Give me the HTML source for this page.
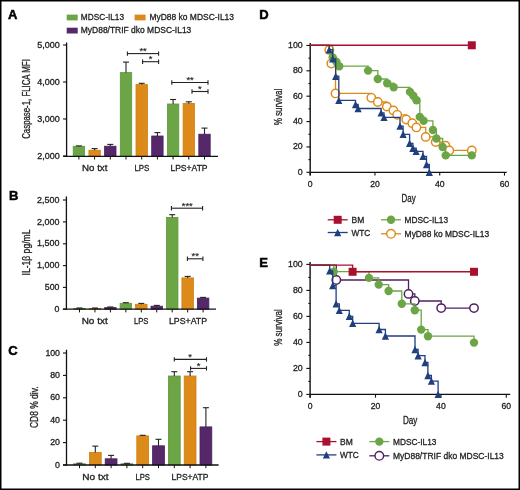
<!DOCTYPE html>
<html><head><meta charset="utf-8"><style>
html,body{margin:0;padding:0;background:#fff;}
svg{display:block;will-change:transform;}
text{font-family:"Liberation Sans",sans-serif;}
</style></head><body>
<svg width="520" height="490" viewBox="0 0 520 490">
<rect x="0" y="0" width="520" height="490" fill="#fff"/>
<rect x="0.75" y="0.75" width="518.5" height="488.5" fill="none" stroke="#000" stroke-width="1.5"/>
<rect x="73.2" y="146.3" width="11.4" height="10" fill="#6ca546" stroke="#5e9838" stroke-width="0.8"/>
<line x1="78.9" y1="146.3" x2="78.9" y2="145.9" stroke="#222222" stroke-width="1.1"/>
<line x1="75.9" y1="145.9" x2="81.9" y2="145.9" stroke="#222222" stroke-width="1.1"/>
<rect x="88.9" y="150.2" width="11.4" height="6.1" fill="#dc8a19" stroke="#cf7e10" stroke-width="0.8"/>
<line x1="94.6" y1="150.2" x2="94.6" y2="148.6" stroke="#222222" stroke-width="1.1"/>
<line x1="91.6" y1="148.6" x2="97.6" y2="148.6" stroke="#222222" stroke-width="1.1"/>
<rect x="104.6" y="146.2" width="11.4" height="10.1" fill="#55286a" stroke="#47205c" stroke-width="0.8"/>
<line x1="110.3" y1="146.2" x2="110.3" y2="144.4" stroke="#222222" stroke-width="1.1"/>
<line x1="107.3" y1="144.4" x2="113.3" y2="144.4" stroke="#222222" stroke-width="1.1"/>
<rect x="120.3" y="72.6" width="11.4" height="83.7" fill="#6ca546" stroke="#5e9838" stroke-width="0.8"/>
<line x1="126" y1="72.6" x2="126" y2="62.1" stroke="#222222" stroke-width="1.1"/>
<line x1="123" y1="62.1" x2="129" y2="62.1" stroke="#222222" stroke-width="1.1"/>
<rect x="136" y="84.6" width="11.4" height="71.7" fill="#dc8a19" stroke="#cf7e10" stroke-width="0.8"/>
<line x1="141.7" y1="84.6" x2="141.7" y2="83.3" stroke="#222222" stroke-width="1.1"/>
<line x1="138.7" y1="83.3" x2="144.7" y2="83.3" stroke="#222222" stroke-width="1.1"/>
<rect x="151.7" y="136" width="11.4" height="20.3" fill="#55286a" stroke="#47205c" stroke-width="0.8"/>
<line x1="157.4" y1="136" x2="157.4" y2="132.6" stroke="#222222" stroke-width="1.1"/>
<line x1="154.4" y1="132.6" x2="160.4" y2="132.6" stroke="#222222" stroke-width="1.1"/>
<rect x="167.4" y="104" width="11.4" height="52.3" fill="#6ca546" stroke="#5e9838" stroke-width="0.8"/>
<line x1="173.1" y1="104" x2="173.1" y2="99.5" stroke="#222222" stroke-width="1.1"/>
<line x1="170.1" y1="99.5" x2="176.1" y2="99.5" stroke="#222222" stroke-width="1.1"/>
<rect x="183.1" y="103.4" width="11.4" height="52.9" fill="#dc8a19" stroke="#cf7e10" stroke-width="0.8"/>
<line x1="188.8" y1="103.4" x2="188.8" y2="101.8" stroke="#222222" stroke-width="1.1"/>
<line x1="185.8" y1="101.8" x2="191.8" y2="101.8" stroke="#222222" stroke-width="1.1"/>
<rect x="198.8" y="134.2" width="11.4" height="22.1" fill="#55286a" stroke="#47205c" stroke-width="0.8"/>
<line x1="204.5" y1="134.2" x2="204.5" y2="128.1" stroke="#222222" stroke-width="1.1"/>
<line x1="201.5" y1="128.1" x2="207.5" y2="128.1" stroke="#222222" stroke-width="1.1"/>
<line x1="66.6" y1="42.5" x2="66.6" y2="156.9" stroke="#111" stroke-width="1.3"/>
<line x1="63.1" y1="156.3" x2="218" y2="156.3" stroke="#111" stroke-width="1.3"/>
<line x1="63.1" y1="45" x2="66.6" y2="45" stroke="#111" stroke-width="1.1"/>
<text x="59.8" y="47.6" font-size="8.8" text-anchor="end" fill="#222" stroke="#222" stroke-width="0.3" textLength="22.5" lengthAdjust="spacingAndGlyphs">5,000</text>
<line x1="63.1" y1="82" x2="66.6" y2="82" stroke="#111" stroke-width="1.1"/>
<text x="59.8" y="84.6" font-size="8.8" text-anchor="end" fill="#222" stroke="#222" stroke-width="0.3" textLength="22.5" lengthAdjust="spacingAndGlyphs">4,000</text>
<line x1="63.1" y1="119" x2="66.6" y2="119" stroke="#111" stroke-width="1.1"/>
<text x="59.8" y="121.6" font-size="8.8" text-anchor="end" fill="#222" stroke="#222" stroke-width="0.3" textLength="22.5" lengthAdjust="spacingAndGlyphs">3,000</text>
<line x1="63.1" y1="156" x2="66.6" y2="156" stroke="#111" stroke-width="1.1"/>
<text x="59.8" y="158.6" font-size="8.8" text-anchor="end" fill="#222" stroke="#222" stroke-width="0.3" textLength="22.5" lengthAdjust="spacingAndGlyphs">2,000</text>
<line x1="78.9" y1="156.3" x2="78.9" y2="159.5" stroke="#111" stroke-width="1.0"/>
<line x1="94.6" y1="156.3" x2="94.6" y2="159.5" stroke="#111" stroke-width="1.0"/>
<line x1="110.3" y1="156.3" x2="110.3" y2="159.5" stroke="#111" stroke-width="1.0"/>
<line x1="126" y1="156.3" x2="126" y2="159.5" stroke="#111" stroke-width="1.0"/>
<line x1="141.7" y1="156.3" x2="141.7" y2="159.5" stroke="#111" stroke-width="1.0"/>
<line x1="157.4" y1="156.3" x2="157.4" y2="159.5" stroke="#111" stroke-width="1.0"/>
<line x1="173.1" y1="156.3" x2="173.1" y2="159.5" stroke="#111" stroke-width="1.0"/>
<line x1="188.8" y1="156.3" x2="188.8" y2="159.5" stroke="#111" stroke-width="1.0"/>
<line x1="204.5" y1="156.3" x2="204.5" y2="159.5" stroke="#111" stroke-width="1.0"/>
<text x="94.7" y="170.8" font-size="9" text-anchor="middle" fill="#222" stroke="#222" stroke-width="0.3" textLength="25.4" lengthAdjust="spacingAndGlyphs">No txt</text>
<text x="141.9" y="170.8" font-size="9" text-anchor="middle" fill="#222" stroke="#222" stroke-width="0.3" textLength="15" lengthAdjust="spacingAndGlyphs">LPS</text>
<text x="189" y="170.8" font-size="9" text-anchor="middle" fill="#222" stroke="#222" stroke-width="0.3" textLength="37.2" lengthAdjust="spacingAndGlyphs">LPS+ATP</text>
<line x1="127.4" y1="53.6" x2="158.6" y2="53.6" stroke="#222" stroke-width="1.1"/>
<line x1="127.4" y1="51.4" x2="127.4" y2="55.8" stroke="#222" stroke-width="1.1"/>
<line x1="158.6" y1="51.4" x2="158.6" y2="55.8" stroke="#222" stroke-width="1.1"/>
<text x="143" y="53.6" font-size="9.3" text-anchor="middle" fill="#222" stroke="#222" stroke-width="0.15">**</text>
<line x1="142.6" y1="61.7" x2="158.6" y2="61.7" stroke="#222" stroke-width="1.1"/>
<line x1="142.6" y1="59.5" x2="142.6" y2="63.9" stroke="#222" stroke-width="1.1"/>
<line x1="158.6" y1="59.5" x2="158.6" y2="63.9" stroke="#222" stroke-width="1.1"/>
<text x="150.6" y="61.7" font-size="9.3" text-anchor="middle" fill="#222" stroke="#222" stroke-width="0.15">*</text>
<line x1="171.8" y1="82.5" x2="208" y2="82.5" stroke="#222" stroke-width="1.1"/>
<line x1="171.8" y1="80.3" x2="171.8" y2="84.7" stroke="#222" stroke-width="1.1"/>
<line x1="208" y1="80.3" x2="208" y2="84.7" stroke="#222" stroke-width="1.1"/>
<text x="190" y="83" font-size="9.3" text-anchor="middle" fill="#222" stroke="#222" stroke-width="0.15">**</text>
<line x1="192" y1="91.5" x2="208" y2="91.5" stroke="#222" stroke-width="1.1"/>
<line x1="192" y1="89.3" x2="192" y2="93.7" stroke="#222" stroke-width="1.1"/>
<line x1="208" y1="89.3" x2="208" y2="93.7" stroke="#222" stroke-width="1.1"/>
<text x="199.9" y="92" font-size="9.3" text-anchor="middle" fill="#222" stroke="#222" stroke-width="0.15">*</text>
<text x="30.4" y="99" font-size="10" text-anchor="middle" fill="#222" stroke="#222" stroke-width="0.3" textLength="79.6" lengthAdjust="spacingAndGlyphs" transform="rotate(-90 30.4 99)">Caspase-1, FLICA MFI</text>
<text x="8" y="19.4" font-size="13" text-anchor="start" fill="#000" font-weight="bold" stroke="#000" stroke-width="0.5">A</text>
<rect x="73.75" y="308.4" width="11.5" height="0.8" fill="#6ca546" stroke="#5e9838" stroke-width="0.8"/>
<line x1="79.5" y1="308.4" x2="79.5" y2="308" stroke="#222222" stroke-width="1.1"/>
<line x1="76.5" y1="308" x2="82.5" y2="308" stroke="#222222" stroke-width="1.1"/>
<rect x="89.2" y="308.5" width="11.5" height="0.7" fill="#dc8a19" stroke="#cf7e10" stroke-width="0.8"/>
<line x1="94.95" y1="308.5" x2="94.95" y2="308" stroke="#222222" stroke-width="1.1"/>
<line x1="91.95" y1="308" x2="97.95" y2="308" stroke="#222222" stroke-width="1.1"/>
<rect x="104.65" y="307.6" width="11.5" height="1.6" fill="#55286a" stroke="#47205c" stroke-width="0.8"/>
<line x1="110.4" y1="307.6" x2="110.4" y2="307" stroke="#222222" stroke-width="1.1"/>
<line x1="107.4" y1="307" x2="113.4" y2="307" stroke="#222222" stroke-width="1.1"/>
<rect x="120.1" y="303.3" width="11.5" height="5.9" fill="#6ca546" stroke="#5e9838" stroke-width="0.8"/>
<line x1="125.85" y1="303.3" x2="125.85" y2="302.7" stroke="#222222" stroke-width="1.1"/>
<line x1="122.85" y1="302.7" x2="128.85" y2="302.7" stroke="#222222" stroke-width="1.1"/>
<rect x="135.55" y="304.3" width="11.5" height="4.9" fill="#dc8a19" stroke="#cf7e10" stroke-width="0.8"/>
<line x1="141.3" y1="304.3" x2="141.3" y2="303.4" stroke="#222222" stroke-width="1.1"/>
<line x1="138.3" y1="303.4" x2="144.3" y2="303.4" stroke="#222222" stroke-width="1.1"/>
<rect x="151" y="306.2" width="11.5" height="3" fill="#55286a" stroke="#47205c" stroke-width="0.8"/>
<line x1="156.75" y1="306.2" x2="156.75" y2="305.4" stroke="#222222" stroke-width="1.1"/>
<line x1="153.75" y1="305.4" x2="159.75" y2="305.4" stroke="#222222" stroke-width="1.1"/>
<rect x="166.45" y="217.4" width="11.5" height="91.8" fill="#6ca546" stroke="#5e9838" stroke-width="0.8"/>
<line x1="172.2" y1="217.4" x2="172.2" y2="214.7" stroke="#222222" stroke-width="1.1"/>
<line x1="169.2" y1="214.7" x2="175.2" y2="214.7" stroke="#222222" stroke-width="1.1"/>
<rect x="181.9" y="277.9" width="11.5" height="31.3" fill="#dc8a19" stroke="#cf7e10" stroke-width="0.8"/>
<line x1="187.65" y1="277.9" x2="187.65" y2="276.4" stroke="#222222" stroke-width="1.1"/>
<line x1="184.65" y1="276.4" x2="190.65" y2="276.4" stroke="#222222" stroke-width="1.1"/>
<rect x="197.35" y="298.1" width="11.5" height="11.1" fill="#55286a" stroke="#47205c" stroke-width="0.8"/>
<line x1="203.1" y1="298.1" x2="203.1" y2="297.4" stroke="#222222" stroke-width="1.1"/>
<line x1="200.1" y1="297.4" x2="206.1" y2="297.4" stroke="#222222" stroke-width="1.1"/>
<line x1="66.4" y1="196.4" x2="66.4" y2="309.8" stroke="#111" stroke-width="1.3"/>
<line x1="62.9" y1="309.2" x2="216" y2="309.2" stroke="#111" stroke-width="1.3"/>
<line x1="62.9" y1="200" x2="66.4" y2="200" stroke="#111" stroke-width="1.1"/>
<text x="59.5" y="202.6" font-size="8.8" text-anchor="end" fill="#222" stroke="#222" stroke-width="0.3" textLength="22.4" lengthAdjust="spacingAndGlyphs">2,500</text>
<line x1="62.9" y1="221.9" x2="66.4" y2="221.9" stroke="#111" stroke-width="1.1"/>
<text x="59.5" y="224.5" font-size="8.8" text-anchor="end" fill="#222" stroke="#222" stroke-width="0.3" textLength="22.4" lengthAdjust="spacingAndGlyphs">2,000</text>
<line x1="62.9" y1="243.8" x2="66.4" y2="243.8" stroke="#111" stroke-width="1.1"/>
<text x="59.5" y="246.4" font-size="8.8" text-anchor="end" fill="#222" stroke="#222" stroke-width="0.3" textLength="22.4" lengthAdjust="spacingAndGlyphs">1,500</text>
<line x1="62.9" y1="265.6" x2="66.4" y2="265.6" stroke="#111" stroke-width="1.1"/>
<text x="59.5" y="268.2" font-size="8.8" text-anchor="end" fill="#222" stroke="#222" stroke-width="0.3" textLength="22.4" lengthAdjust="spacingAndGlyphs">1,000</text>
<line x1="62.9" y1="287.4" x2="66.4" y2="287.4" stroke="#111" stroke-width="1.1"/>
<text x="59.5" y="290" font-size="8.8" text-anchor="end" fill="#222" stroke="#222" stroke-width="0.3">500</text>
<line x1="62.9" y1="309.2" x2="66.4" y2="309.2" stroke="#111" stroke-width="1.1"/>
<text x="59.5" y="311.8" font-size="8.8" text-anchor="end" fill="#222" stroke="#222" stroke-width="0.3">0</text>
<line x1="79.5" y1="309.2" x2="79.5" y2="312.4" stroke="#111" stroke-width="1.0"/>
<line x1="94.95" y1="309.2" x2="94.95" y2="312.4" stroke="#111" stroke-width="1.0"/>
<line x1="110.4" y1="309.2" x2="110.4" y2="312.4" stroke="#111" stroke-width="1.0"/>
<line x1="125.85" y1="309.2" x2="125.85" y2="312.4" stroke="#111" stroke-width="1.0"/>
<line x1="141.3" y1="309.2" x2="141.3" y2="312.4" stroke="#111" stroke-width="1.0"/>
<line x1="156.75" y1="309.2" x2="156.75" y2="312.4" stroke="#111" stroke-width="1.0"/>
<line x1="172.2" y1="309.2" x2="172.2" y2="312.4" stroke="#111" stroke-width="1.0"/>
<line x1="187.65" y1="309.2" x2="187.65" y2="312.4" stroke="#111" stroke-width="1.0"/>
<line x1="203.1" y1="309.2" x2="203.1" y2="312.4" stroke="#111" stroke-width="1.0"/>
<text x="94.7" y="323.5" font-size="9" text-anchor="middle" fill="#222" stroke="#222" stroke-width="0.3" textLength="26" lengthAdjust="spacingAndGlyphs">No txt</text>
<text x="141.2" y="323.5" font-size="9" text-anchor="middle" fill="#222" stroke="#222" stroke-width="0.3" textLength="14.5" lengthAdjust="spacingAndGlyphs">LPS</text>
<text x="188" y="323.5" font-size="9" text-anchor="middle" fill="#222" stroke="#222" stroke-width="0.3" textLength="38" lengthAdjust="spacingAndGlyphs">LPS+ATP</text>
<line x1="171.4" y1="208.2" x2="202.6" y2="208.2" stroke="#222" stroke-width="1.1"/>
<line x1="171.4" y1="206" x2="171.4" y2="210.4" stroke="#222" stroke-width="1.1"/>
<line x1="202.6" y1="206" x2="202.6" y2="210.4" stroke="#222" stroke-width="1.1"/>
<text x="187.2" y="208.5" font-size="9.3" text-anchor="middle" fill="#222" stroke="#222" stroke-width="0.15">***</text>
<line x1="187.4" y1="258.8" x2="202.9" y2="258.8" stroke="#222" stroke-width="1.1"/>
<line x1="187.4" y1="256.6" x2="187.4" y2="261" stroke="#222" stroke-width="1.1"/>
<line x1="202.9" y1="256.6" x2="202.9" y2="261" stroke="#222" stroke-width="1.1"/>
<text x="195.2" y="259.1" font-size="9.3" text-anchor="middle" fill="#222" stroke="#222" stroke-width="0.15">**</text>
<text x="30" y="252.5" font-size="10" text-anchor="middle" fill="#222" stroke="#222" stroke-width="0.3" textLength="46" lengthAdjust="spacingAndGlyphs" transform="rotate(-90 30 252.5)">IL-1β pg/mL</text>
<text x="9" y="200.3" font-size="13" text-anchor="start" fill="#000" font-weight="bold" stroke="#000" stroke-width="0.5">B</text>
<rect x="73.6" y="463.8" width="11.8" height="1.2" fill="#6ca546" stroke="#5e9838" stroke-width="0.8"/>
<line x1="79.5" y1="463.8" x2="79.5" y2="463.2" stroke="#222222" stroke-width="1.1"/>
<line x1="76.5" y1="463.2" x2="82.5" y2="463.2" stroke="#222222" stroke-width="1.1"/>
<rect x="89.4" y="452.4" width="11.8" height="12.6" fill="#dc8a19" stroke="#cf7e10" stroke-width="0.8"/>
<line x1="95.3" y1="452.4" x2="95.3" y2="446.1" stroke="#222222" stroke-width="1.1"/>
<line x1="92.3" y1="446.1" x2="98.3" y2="446.1" stroke="#222222" stroke-width="1.1"/>
<rect x="105.2" y="458.8" width="11.8" height="6.2" fill="#55286a" stroke="#47205c" stroke-width="0.8"/>
<line x1="111.1" y1="458.8" x2="111.1" y2="455.4" stroke="#222222" stroke-width="1.1"/>
<line x1="108.1" y1="455.4" x2="114.1" y2="455.4" stroke="#222222" stroke-width="1.1"/>
<rect x="121" y="463.8" width="11.8" height="1.2" fill="#6ca546" stroke="#5e9838" stroke-width="0.8"/>
<line x1="126.9" y1="463.8" x2="126.9" y2="463.3" stroke="#222222" stroke-width="1.1"/>
<line x1="123.9" y1="463.3" x2="129.9" y2="463.3" stroke="#222222" stroke-width="1.1"/>
<rect x="136.8" y="435.9" width="11.8" height="29.1" fill="#dc8a19" stroke="#cf7e10" stroke-width="0.8"/>
<line x1="142.7" y1="435.9" x2="142.7" y2="435.3" stroke="#222222" stroke-width="1.1"/>
<line x1="139.7" y1="435.3" x2="145.7" y2="435.3" stroke="#222222" stroke-width="1.1"/>
<rect x="152.6" y="445.8" width="11.8" height="19.2" fill="#55286a" stroke="#47205c" stroke-width="0.8"/>
<line x1="158.5" y1="445.8" x2="158.5" y2="439.3" stroke="#222222" stroke-width="1.1"/>
<line x1="155.5" y1="439.3" x2="161.5" y2="439.3" stroke="#222222" stroke-width="1.1"/>
<rect x="168.4" y="376" width="11.8" height="89" fill="#6ca546" stroke="#5e9838" stroke-width="0.8"/>
<line x1="174.3" y1="376" x2="174.3" y2="371.7" stroke="#222222" stroke-width="1.1"/>
<line x1="171.3" y1="371.7" x2="177.3" y2="371.7" stroke="#222222" stroke-width="1.1"/>
<rect x="184.2" y="376" width="11.8" height="89" fill="#dc8a19" stroke="#cf7e10" stroke-width="0.8"/>
<line x1="190.1" y1="376" x2="190.1" y2="371.7" stroke="#222222" stroke-width="1.1"/>
<line x1="187.1" y1="371.7" x2="193.1" y2="371.7" stroke="#222222" stroke-width="1.1"/>
<rect x="200" y="426.9" width="11.8" height="38.1" fill="#55286a" stroke="#47205c" stroke-width="0.8"/>
<line x1="205.9" y1="426.9" x2="205.9" y2="407.7" stroke="#222222" stroke-width="1.1"/>
<line x1="202.9" y1="407.7" x2="208.9" y2="407.7" stroke="#222222" stroke-width="1.1"/>
<line x1="66.5" y1="349.7" x2="66.5" y2="465.6" stroke="#111" stroke-width="1.3"/>
<line x1="63" y1="465" x2="218.6" y2="465" stroke="#111" stroke-width="1.3"/>
<line x1="63" y1="353" x2="66.5" y2="353" stroke="#111" stroke-width="1.1"/>
<text x="60" y="355.6" font-size="8.8" text-anchor="end" fill="#222" stroke="#222" stroke-width="0.3" textLength="14.6" lengthAdjust="spacingAndGlyphs">100</text>
<line x1="63" y1="375.4" x2="66.5" y2="375.4" stroke="#111" stroke-width="1.1"/>
<text x="60" y="378" font-size="8.8" text-anchor="end" fill="#222" stroke="#222" stroke-width="0.3">80</text>
<line x1="63" y1="397.8" x2="66.5" y2="397.8" stroke="#111" stroke-width="1.1"/>
<text x="60" y="400.4" font-size="8.8" text-anchor="end" fill="#222" stroke="#222" stroke-width="0.3">60</text>
<line x1="63" y1="420.2" x2="66.5" y2="420.2" stroke="#111" stroke-width="1.1"/>
<text x="60" y="422.8" font-size="8.8" text-anchor="end" fill="#222" stroke="#222" stroke-width="0.3">40</text>
<line x1="63" y1="442.6" x2="66.5" y2="442.6" stroke="#111" stroke-width="1.1"/>
<text x="60" y="445.2" font-size="8.8" text-anchor="end" fill="#222" stroke="#222" stroke-width="0.3">20</text>
<line x1="63" y1="465" x2="66.5" y2="465" stroke="#111" stroke-width="1.1"/>
<text x="60" y="467.6" font-size="8.8" text-anchor="end" fill="#222" stroke="#222" stroke-width="0.3">0</text>
<line x1="79.5" y1="465" x2="79.5" y2="468.2" stroke="#111" stroke-width="1.0"/>
<line x1="95.3" y1="465" x2="95.3" y2="468.2" stroke="#111" stroke-width="1.0"/>
<line x1="111.1" y1="465" x2="111.1" y2="468.2" stroke="#111" stroke-width="1.0"/>
<line x1="126.9" y1="465" x2="126.9" y2="468.2" stroke="#111" stroke-width="1.0"/>
<line x1="142.7" y1="465" x2="142.7" y2="468.2" stroke="#111" stroke-width="1.0"/>
<line x1="158.5" y1="465" x2="158.5" y2="468.2" stroke="#111" stroke-width="1.0"/>
<line x1="174.3" y1="465" x2="174.3" y2="468.2" stroke="#111" stroke-width="1.0"/>
<line x1="190.1" y1="465" x2="190.1" y2="468.2" stroke="#111" stroke-width="1.0"/>
<line x1="205.9" y1="465" x2="205.9" y2="468.2" stroke="#111" stroke-width="1.0"/>
<text x="95.4" y="479.9" font-size="9" text-anchor="middle" fill="#222" stroke="#222" stroke-width="0.3" textLength="26.2" lengthAdjust="spacingAndGlyphs">No txt</text>
<text x="142.7" y="479.9" font-size="9" text-anchor="middle" fill="#222" stroke="#222" stroke-width="0.3" textLength="14.5" lengthAdjust="spacingAndGlyphs">LPS</text>
<text x="190" y="479.9" font-size="9" text-anchor="middle" fill="#222" stroke="#222" stroke-width="0.3" textLength="37" lengthAdjust="spacingAndGlyphs">LPS+ATP</text>
<line x1="174.3" y1="359.4" x2="206.5" y2="359.4" stroke="#222" stroke-width="1.1"/>
<line x1="174.3" y1="357.2" x2="174.3" y2="361.6" stroke="#222" stroke-width="1.1"/>
<line x1="206.5" y1="357.2" x2="206.5" y2="361.6" stroke="#222" stroke-width="1.1"/>
<text x="190" y="360.1" font-size="9.3" text-anchor="middle" fill="#222" stroke="#222" stroke-width="0.15">*</text>
<line x1="190.6" y1="368.4" x2="206.5" y2="368.4" stroke="#222" stroke-width="1.1"/>
<line x1="190.6" y1="366.2" x2="190.6" y2="370.6" stroke="#222" stroke-width="1.1"/>
<line x1="206.5" y1="366.2" x2="206.5" y2="370.6" stroke="#222" stroke-width="1.1"/>
<text x="198.6" y="368.6" font-size="9.3" text-anchor="middle" fill="#222" stroke="#222" stroke-width="0.15">*</text>
<text x="37.9" y="407.2" font-size="10" text-anchor="middle" fill="#222" stroke="#222" stroke-width="0.3" textLength="41.7" lengthAdjust="spacingAndGlyphs" transform="rotate(-90 37.9 407.2)">CD8 % div.</text>
<text x="8.2" y="354.8" font-size="13" text-anchor="start" fill="#000" font-weight="bold" stroke="#000" stroke-width="0.5">C</text>
<rect x="66.7" y="14.6" width="11" height="5.8" fill="#6ca546"/>
<text x="80.8" y="20.4" font-size="9.2" text-anchor="start" fill="#222" stroke="#222" stroke-width="0.3" textLength="43.2" lengthAdjust="spacingAndGlyphs">MDSC-IL13</text>
<rect x="134.6" y="14.6" width="11" height="5.8" fill="#dc8a19"/>
<text x="149.5" y="20.4" font-size="9.2" text-anchor="start" fill="#222" stroke="#222" stroke-width="0.3" textLength="84.5" lengthAdjust="spacingAndGlyphs">MyD88 ko MDSC-IL13</text>
<rect x="66.7" y="27.7" width="11" height="5.8" fill="#55286a"/>
<text x="80.8" y="33.4" font-size="9.2" text-anchor="start" fill="#222" stroke="#222" stroke-width="0.3" textLength="110.5" lengthAdjust="spacingAndGlyphs">MyD88/TRIF dko MDSC-IL13</text>
<line x1="310.2" y1="42.9" x2="310.2" y2="175.6" stroke="#111" stroke-width="1.4"/>
<line x1="310.2" y1="172.3" x2="506.7" y2="172.3" stroke="#111" stroke-width="1.3"/>
<line x1="306.4" y1="172.3" x2="310.2" y2="172.3" stroke="#111" stroke-width="1.1"/>
<text x="302.7" y="174.8" font-size="8.8" text-anchor="end" fill="#222" stroke="#222" stroke-width="0.3">0</text>
<line x1="308.4" y1="159.62" x2="310.2" y2="159.62" stroke="#111" stroke-width="1.1"/>
<line x1="306.4" y1="146.93" x2="310.2" y2="146.93" stroke="#111" stroke-width="1.1"/>
<text x="302.7" y="149.43" font-size="8.8" text-anchor="end" fill="#222" stroke="#222" stroke-width="0.3">20</text>
<line x1="308.4" y1="134.25" x2="310.2" y2="134.25" stroke="#111" stroke-width="1.1"/>
<line x1="306.4" y1="121.56" x2="310.2" y2="121.56" stroke="#111" stroke-width="1.1"/>
<text x="302.7" y="124.06" font-size="8.8" text-anchor="end" fill="#222" stroke="#222" stroke-width="0.3">40</text>
<line x1="308.4" y1="108.88" x2="310.2" y2="108.88" stroke="#111" stroke-width="1.1"/>
<line x1="306.4" y1="96.19" x2="310.2" y2="96.19" stroke="#111" stroke-width="1.1"/>
<text x="302.7" y="98.69" font-size="8.8" text-anchor="end" fill="#222" stroke="#222" stroke-width="0.3">60</text>
<line x1="308.4" y1="83.51" x2="310.2" y2="83.51" stroke="#111" stroke-width="1.1"/>
<line x1="306.4" y1="70.82" x2="310.2" y2="70.82" stroke="#111" stroke-width="1.1"/>
<text x="302.7" y="73.32" font-size="8.8" text-anchor="end" fill="#222" stroke="#222" stroke-width="0.3">80</text>
<line x1="308.4" y1="58.14" x2="310.2" y2="58.14" stroke="#111" stroke-width="1.1"/>
<line x1="306.4" y1="45.45" x2="310.2" y2="45.45" stroke="#111" stroke-width="1.1"/>
<text x="302.7" y="47.95" font-size="8.8" text-anchor="end" fill="#222" stroke="#222" stroke-width="0.3" textLength="14.6" lengthAdjust="spacingAndGlyphs">100</text>
<line x1="310.2" y1="172.3" x2="310.2" y2="175.6" stroke="#111" stroke-width="1.1"/>
<text x="310.2" y="187" font-size="8.6" text-anchor="middle" fill="#222" stroke="#222" stroke-width="0.3">0</text>
<line x1="374.96" y1="172.3" x2="374.96" y2="175.6" stroke="#111" stroke-width="1.1"/>
<text x="374.96" y="187" font-size="8.6" text-anchor="middle" fill="#222" stroke="#222" stroke-width="0.3">20</text>
<line x1="439.72" y1="172.3" x2="439.72" y2="175.6" stroke="#111" stroke-width="1.1"/>
<text x="439.72" y="187" font-size="8.6" text-anchor="middle" fill="#222" stroke="#222" stroke-width="0.3">40</text>
<line x1="504.48" y1="172.3" x2="504.48" y2="175.6" stroke="#111" stroke-width="1.1"/>
<text x="504.48" y="187" font-size="8.6" text-anchor="middle" fill="#222" stroke="#222" stroke-width="0.3">60</text>
<text x="408.7" y="202" font-size="10" text-anchor="middle" fill="#222" stroke="#222" stroke-width="0.3" textLength="14.2" lengthAdjust="spacingAndGlyphs">Day</text>
<text x="281.5" y="107" font-size="11" text-anchor="middle" fill="#222" stroke="#222" stroke-width="0.3" textLength="36.7" lengthAdjust="spacingAndGlyphs" transform="rotate(-90 281.5 107)">% survival</text>
<text x="259.2" y="19.4" font-size="13" text-anchor="start" fill="#000" font-weight="bold" stroke="#000" stroke-width="0.5">D</text>
<line x1="310.1" y1="262" x2="310.1" y2="397.7" stroke="#111" stroke-width="1.4"/>
<line x1="310.1" y1="394.4" x2="510.2" y2="394.4" stroke="#111" stroke-width="1.3"/>
<line x1="306.3" y1="394.4" x2="310.1" y2="394.4" stroke="#111" stroke-width="1.1"/>
<text x="302.7" y="396.9" font-size="8.8" text-anchor="end" fill="#222" stroke="#222" stroke-width="0.3">0</text>
<line x1="308.3" y1="381.4" x2="310.1" y2="381.4" stroke="#111" stroke-width="1.1"/>
<line x1="306.3" y1="368.4" x2="310.1" y2="368.4" stroke="#111" stroke-width="1.1"/>
<text x="302.7" y="370.9" font-size="8.8" text-anchor="end" fill="#222" stroke="#222" stroke-width="0.3">20</text>
<line x1="308.3" y1="355.4" x2="310.1" y2="355.4" stroke="#111" stroke-width="1.1"/>
<line x1="306.3" y1="342.4" x2="310.1" y2="342.4" stroke="#111" stroke-width="1.1"/>
<text x="302.7" y="344.9" font-size="8.8" text-anchor="end" fill="#222" stroke="#222" stroke-width="0.3">40</text>
<line x1="308.3" y1="329.4" x2="310.1" y2="329.4" stroke="#111" stroke-width="1.1"/>
<line x1="306.3" y1="316.4" x2="310.1" y2="316.4" stroke="#111" stroke-width="1.1"/>
<text x="302.7" y="318.9" font-size="8.8" text-anchor="end" fill="#222" stroke="#222" stroke-width="0.3">60</text>
<line x1="308.3" y1="303.4" x2="310.1" y2="303.4" stroke="#111" stroke-width="1.1"/>
<line x1="306.3" y1="290.4" x2="310.1" y2="290.4" stroke="#111" stroke-width="1.1"/>
<text x="302.7" y="292.9" font-size="8.8" text-anchor="end" fill="#222" stroke="#222" stroke-width="0.3">80</text>
<line x1="308.3" y1="277.4" x2="310.1" y2="277.4" stroke="#111" stroke-width="1.1"/>
<line x1="306.3" y1="264.4" x2="310.1" y2="264.4" stroke="#111" stroke-width="1.1"/>
<text x="302.7" y="266.9" font-size="8.8" text-anchor="end" fill="#222" stroke="#222" stroke-width="0.3" textLength="14.6" lengthAdjust="spacingAndGlyphs">100</text>
<line x1="310.1" y1="394.4" x2="310.1" y2="397.7" stroke="#111" stroke-width="1.1"/>
<text x="310.1" y="409" font-size="8.6" text-anchor="middle" fill="#222" stroke="#222" stroke-width="0.3">0</text>
<line x1="375.5" y1="394.4" x2="375.5" y2="397.7" stroke="#111" stroke-width="1.1"/>
<text x="375.5" y="409" font-size="8.6" text-anchor="middle" fill="#222" stroke="#222" stroke-width="0.3">20</text>
<line x1="440.9" y1="394.4" x2="440.9" y2="397.7" stroke="#111" stroke-width="1.1"/>
<text x="440.9" y="409" font-size="8.6" text-anchor="middle" fill="#222" stroke="#222" stroke-width="0.3">40</text>
<line x1="506.3" y1="394.4" x2="506.3" y2="397.7" stroke="#111" stroke-width="1.1"/>
<text x="506.3" y="409" font-size="8.6" text-anchor="middle" fill="#222" stroke="#222" stroke-width="0.3">60</text>
<text x="410.2" y="424.4" font-size="10" text-anchor="middle" fill="#222" stroke="#222" stroke-width="0.3" textLength="14.5" lengthAdjust="spacingAndGlyphs">Day</text>
<text x="281.6" y="327.5" font-size="11" text-anchor="middle" fill="#222" stroke="#222" stroke-width="0.3" textLength="36.7" lengthAdjust="spacingAndGlyphs" transform="rotate(-90 281.6 327.5)">% survival</text>
<text x="259.2" y="267.3" font-size="13" text-anchor="start" fill="#000" font-weight="bold" stroke="#000" stroke-width="0.5">E</text>
<path d="M310 45.3 L329.3 45.3 L329.3 50 L331.3 50 L331.3 63.6 L335.5 63.6 L335.5 93.4 L371.3 93.4 L371.3 97.8 L377.8 97.8 L377.8 102 L386.8 102 L386.8 106.6 L393.4 106.6 L393.4 110.5 L397.2 110.5 L397.2 114.8 L406.2 114.8 L406.2 119.5 L412.3 119.5 L412.3 123.2 L416.4 123.2 L416.4 127.4 L425.7 127.4 L425.7 136.9 L435.7 136.9 L435.7 142.1 L445.4 142.1 L445.4 145.6 L449.3 145.6 L449.3 150.4 L471.8 150.4" fill="none" stroke="#dc8a19" stroke-width="1.3"/>
<circle cx="329.3" cy="50" r="4.2" fill="#fff" stroke="#dc8a19" stroke-width="1.45"/>
<circle cx="331.3" cy="63.6" r="4.2" fill="#fff" stroke="#dc8a19" stroke-width="1.45"/>
<circle cx="335.5" cy="93.4" r="4.2" fill="#fff" stroke="#dc8a19" stroke-width="1.45"/>
<circle cx="371.3" cy="97.8" r="4.2" fill="#fff" stroke="#dc8a19" stroke-width="1.45"/>
<circle cx="377.8" cy="102" r="4.2" fill="#fff" stroke="#dc8a19" stroke-width="1.45"/>
<circle cx="386.8" cy="106.6" r="4.2" fill="#fff" stroke="#dc8a19" stroke-width="1.45"/>
<circle cx="393.4" cy="110.5" r="4.2" fill="#fff" stroke="#dc8a19" stroke-width="1.45"/>
<circle cx="397.2" cy="114.8" r="4.2" fill="#fff" stroke="#dc8a19" stroke-width="1.45"/>
<circle cx="406.2" cy="119.5" r="4.2" fill="#fff" stroke="#dc8a19" stroke-width="1.45"/>
<circle cx="412.3" cy="123.2" r="4.2" fill="#fff" stroke="#dc8a19" stroke-width="1.45"/>
<circle cx="416.4" cy="127.4" r="4.2" fill="#fff" stroke="#dc8a19" stroke-width="1.45"/>
<circle cx="425.7" cy="136.9" r="4.2" fill="#fff" stroke="#dc8a19" stroke-width="1.45"/>
<circle cx="435.7" cy="142.1" r="4.2" fill="#fff" stroke="#dc8a19" stroke-width="1.45"/>
<circle cx="445.4" cy="145.6" r="4.2" fill="#fff" stroke="#dc8a19" stroke-width="1.45"/>
<circle cx="449.3" cy="150.4" r="4.2" fill="#fff" stroke="#dc8a19" stroke-width="1.45"/>
<circle cx="471.8" cy="150.4" r="4.2" fill="#fff" stroke="#dc8a19" stroke-width="1.45"/>
<path d="M310 45.3 L332.7 45.3 L332.7 57.5 L336.5 57.5 L336.5 62 L339.2 62 L339.2 66.2 L368.1 66.2 L368.1 70.6 L377.8 70.6 L377.8 79 L387.2 79 L387.2 83.2 L393.7 83.2 L393.7 87.3 L410 87.3 L410 91.9 L413.3 91.9 L413.3 95.8 L416.5 95.8 L416.5 100.2 L419.8 100.2 L419.8 116.9 L423.6 116.9 L423.6 120.8 L432.9 120.8 L432.9 130 L436.4 130 L436.4 138.5 L442.6 138.5 L442.6 147 L445.7 147 L445.7 155.4 L471.8 155.4" fill="none" stroke="#6ca546" stroke-width="1.3"/>
<circle cx="332.7" cy="57.5" r="4.2" fill="#6ca546"/>
<circle cx="336.5" cy="62" r="4.2" fill="#6ca546"/>
<circle cx="339.2" cy="66.2" r="4.2" fill="#6ca546"/>
<circle cx="368.1" cy="70.6" r="4.2" fill="#6ca546"/>
<circle cx="377.8" cy="79" r="4.2" fill="#6ca546"/>
<circle cx="387.2" cy="83.2" r="4.2" fill="#6ca546"/>
<circle cx="393.7" cy="87.3" r="4.2" fill="#6ca546"/>
<circle cx="410" cy="91.9" r="4.2" fill="#6ca546"/>
<circle cx="413.3" cy="95.8" r="4.2" fill="#6ca546"/>
<circle cx="416.5" cy="100.2" r="4.2" fill="#6ca546"/>
<circle cx="419.8" cy="116.9" r="4.2" fill="#6ca546"/>
<circle cx="423.6" cy="120.8" r="4.2" fill="#6ca546"/>
<circle cx="432.9" cy="130" r="4.2" fill="#6ca546"/>
<circle cx="436.4" cy="138.5" r="4.2" fill="#6ca546"/>
<circle cx="442.6" cy="147" r="4.2" fill="#6ca546"/>
<circle cx="445.7" cy="155.4" r="4.2" fill="#6ca546"/>
<circle cx="471.8" cy="155.4" r="4.2" fill="#6ca546"/>
<path d="M310 45.3 L329.2 45.3 L329.2 49.7 L332.7 49.7 L332.7 58.9 L335.7 58.9 L335.7 76.2 L338.8 76.2 L338.8 100.4 L355.5 100.4 L355.5 104.5 L358.1 104.5 L358.1 108.5 L381.1 108.5 L381.1 112.9 L384 112.9 L384 117.4 L400 117.4 L400 126.1 L403.1 126.1 L403.1 134.3 L409.6 134.3 L409.6 143.3 L412.9 143.3 L412.9 148.2 L416.1 148.2 L416.1 151.4 L423 151.4 L423 156.3 L426.5 156.3 L426.5 164.5 L429.3 164.5 L429.3 172.3" fill="none" stroke="#1f3f7f" stroke-width="1.3"/>
<path d="M329.2 46 L332.8 53.4 L325.6 53.4Z" fill="#1f3f7f"/>
<path d="M332.7 55.2 L336.3 62.6 L329.1 62.6Z" fill="#1f3f7f"/>
<path d="M335.7 72.5 L339.3 79.9 L332.1 79.9Z" fill="#1f3f7f"/>
<path d="M338.8 96.7 L342.4 104.1 L335.2 104.1Z" fill="#1f3f7f"/>
<path d="M355.5 100.8 L359.1 108.2 L351.9 108.2Z" fill="#1f3f7f"/>
<path d="M358.1 104.8 L361.7 112.2 L354.5 112.2Z" fill="#1f3f7f"/>
<path d="M381.1 109.2 L384.7 116.6 L377.5 116.6Z" fill="#1f3f7f"/>
<path d="M384 113.7 L387.6 121.1 L380.4 121.1Z" fill="#1f3f7f"/>
<path d="M400 122.4 L403.6 129.8 L396.4 129.8Z" fill="#1f3f7f"/>
<path d="M403.1 130.6 L406.7 138 L399.5 138Z" fill="#1f3f7f"/>
<path d="M409.6 139.6 L413.2 147 L406 147Z" fill="#1f3f7f"/>
<path d="M412.9 144.5 L416.5 151.9 L409.3 151.9Z" fill="#1f3f7f"/>
<path d="M416.1 147.7 L419.7 155.1 L412.5 155.1Z" fill="#1f3f7f"/>
<path d="M423 152.6 L426.6 160 L419.4 160Z" fill="#1f3f7f"/>
<path d="M426.5 160.8 L430.1 168.2 L422.9 168.2Z" fill="#1f3f7f"/>
<path d="M429.3 168.6 L432.9 176 L425.7 176Z" fill="#1f3f7f"/>
<line x1="310" y1="45.3" x2="471.8" y2="45.3" stroke="#a8102e" stroke-width="1.4"/>
<rect x="467.8" y="41.3" width="8" height="8" fill="#a8102e"/>
<path d="M310 265.1 L336.3 265.1 L336.3 280 L408.5 280 L408.5 293.9 L414.8 293.9 L414.8 301 L441.2 301 L441.2 308.1 L474 308.1" fill="none" stroke="#4f1f63" stroke-width="1.3"/>
<circle cx="336.3" cy="280" r="4.2" fill="#fff" stroke="#4f1f63" stroke-width="1.45"/>
<circle cx="408.5" cy="293.9" r="4.2" fill="#fff" stroke="#4f1f63" stroke-width="1.45"/>
<circle cx="414.8" cy="301" r="4.2" fill="#fff" stroke="#4f1f63" stroke-width="1.45"/>
<circle cx="441.2" cy="308.1" r="4.2" fill="#fff" stroke="#4f1f63" stroke-width="1.45"/>
<circle cx="474" cy="308.1" r="4.2" fill="#fff" stroke="#4f1f63" stroke-width="1.45"/>
<path d="M310 265.1 L333.8 265.1 L333.8 271.6 L369 271.6 L369 277.9 L378.7 277.9 L378.7 284.6 L388.6 284.6 L388.6 291 L401.8 291 L401.8 303.8 L414.8 303.8 L414.8 310.2 L421.2 310.2 L421.2 329.6 L428 329.6 L428 336.2 L474 336.2 L474 342.6" fill="none" stroke="#6ca546" stroke-width="1.3"/>
<circle cx="333.8" cy="271.6" r="4.2" fill="#6ca546"/>
<circle cx="369" cy="277.9" r="4.2" fill="#6ca546"/>
<circle cx="378.7" cy="284.6" r="4.2" fill="#6ca546"/>
<circle cx="388.6" cy="291" r="4.2" fill="#6ca546"/>
<circle cx="401.8" cy="303.8" r="4.2" fill="#6ca546"/>
<circle cx="414.8" cy="310.2" r="4.2" fill="#6ca546"/>
<circle cx="421.2" cy="329.6" r="4.2" fill="#6ca546"/>
<circle cx="428" cy="336.2" r="4.2" fill="#6ca546"/>
<circle cx="474" cy="342.6" r="4.2" fill="#6ca546"/>
<path d="M310 265.1 L329.7 265.1 L329.7 270.9 L332.7 270.9 L332.7 285.6 L336.1 285.6 L336.1 303.8 L339.3 303.8 L339.3 310.4 L349.3 310.4 L349.3 316.3 L352.7 316.3 L352.7 323.3 L379.1 323.3 L379.1 329.5 L385.4 329.5 L385.4 336 L415 336 L415 349.5 L418.1 349.5 L418.1 355.7 L425 355.7 L425 362.5 L427.9 362.5 L427.9 375.5 L431.4 375.5 L431.4 381.1 L438.1 381.1 L438.1 394.4" fill="none" stroke="#1f3f7f" stroke-width="1.3"/>
<path d="M329.7 267.2 L333.3 274.6 L326.1 274.6Z" fill="#1f3f7f"/>
<path d="M332.7 281.9 L336.3 289.3 L329.1 289.3Z" fill="#1f3f7f"/>
<path d="M336.1 300.1 L339.7 307.5 L332.5 307.5Z" fill="#1f3f7f"/>
<path d="M339.3 306.7 L342.9 314.1 L335.7 314.1Z" fill="#1f3f7f"/>
<path d="M349.3 312.6 L352.9 320 L345.7 320Z" fill="#1f3f7f"/>
<path d="M352.7 319.6 L356.3 327 L349.1 327Z" fill="#1f3f7f"/>
<path d="M379.1 325.8 L382.7 333.2 L375.5 333.2Z" fill="#1f3f7f"/>
<path d="M385.4 332.3 L389 339.7 L381.8 339.7Z" fill="#1f3f7f"/>
<path d="M415 345.8 L418.6 353.2 L411.4 353.2Z" fill="#1f3f7f"/>
<path d="M418.1 352 L421.7 359.4 L414.5 359.4Z" fill="#1f3f7f"/>
<path d="M425 358.8 L428.6 366.2 L421.4 366.2Z" fill="#1f3f7f"/>
<path d="M427.9 371.8 L431.5 379.2 L424.3 379.2Z" fill="#1f3f7f"/>
<path d="M431.4 377.4 L435 384.8 L427.8 384.8Z" fill="#1f3f7f"/>
<path d="M438.1 390.7 L441.7 398.1 L434.5 398.1Z" fill="#1f3f7f"/>
<path d="M310 265.1 L352.6 265.1 L352.6 271.8 L474 271.8" fill="none" stroke="#a8102e" stroke-width="1.4"/>
<rect x="348.6" y="267.8" width="8" height="8" fill="#a8102e"/>
<rect x="470" y="267.8" width="8" height="8" fill="#a8102e"/>
<line x1="327.7" y1="219.8" x2="347.7" y2="219.8" stroke="#a8102e" stroke-width="1.3"/>
<rect x="333.7" y="215.8" width="8" height="8" fill="#a8102e"/>
<text x="351.5" y="223" font-size="9.2" text-anchor="start" fill="#222" stroke="#222" stroke-width="0.3" textLength="12.7" lengthAdjust="spacingAndGlyphs">BM</text>
<line x1="327.7" y1="232.5" x2="347.7" y2="232.5" stroke="#1f3f7f" stroke-width="1.3"/>
<path d="M337.7 228.8 L341.3 236.2 L334.1 236.2Z" fill="#1f3f7f"/>
<text x="351.5" y="235.7" font-size="9.2" text-anchor="start" fill="#222" stroke="#222" stroke-width="0.3" textLength="18.8" lengthAdjust="spacingAndGlyphs">WTC</text>
<line x1="381" y1="219.8" x2="401" y2="219.8" stroke="#6ca546" stroke-width="1.3"/>
<circle cx="391" cy="219.8" r="4.2" fill="#6ca546"/>
<text x="404.6" y="223" font-size="9.2" text-anchor="start" fill="#222" stroke="#222" stroke-width="0.3" textLength="43.5" lengthAdjust="spacingAndGlyphs">MDSC-IL13</text>
<line x1="381" y1="233.8" x2="401" y2="233.8" stroke="#dc8a19" stroke-width="1.3"/>
<circle cx="391" cy="233.8" r="4.3" fill="#fff" stroke="#dc8a19" stroke-width="1.4"/>
<text x="404.6" y="237" font-size="9.2" text-anchor="start" fill="#222" stroke="#222" stroke-width="0.3" textLength="84.5" lengthAdjust="spacingAndGlyphs">MyD88 ko MDSC-IL13</text>
<line x1="316.4" y1="441.6" x2="336.4" y2="441.6" stroke="#a8102e" stroke-width="1.3"/>
<rect x="322.4" y="437.6" width="8" height="8" fill="#a8102e"/>
<text x="340" y="444.8" font-size="9.2" text-anchor="start" fill="#222" stroke="#222" stroke-width="0.3" textLength="12.7" lengthAdjust="spacingAndGlyphs">BM</text>
<line x1="316.4" y1="454.9" x2="336.4" y2="454.9" stroke="#1f3f7f" stroke-width="1.3"/>
<path d="M326.4 451.2 L330 458.6 L322.8 458.6Z" fill="#1f3f7f"/>
<text x="340" y="458.1" font-size="9.2" text-anchor="start" fill="#222" stroke="#222" stroke-width="0.3" textLength="18.8" lengthAdjust="spacingAndGlyphs">WTC</text>
<line x1="369.3" y1="441.6" x2="389.3" y2="441.6" stroke="#6ca546" stroke-width="1.3"/>
<circle cx="379.3" cy="441.6" r="4.2" fill="#6ca546"/>
<text x="393" y="444.8" font-size="9.2" text-anchor="start" fill="#222" stroke="#222" stroke-width="0.3" textLength="43.5" lengthAdjust="spacingAndGlyphs">MDSC-IL13</text>
<line x1="369.3" y1="455.8" x2="389.3" y2="455.8" stroke="#4f1f63" stroke-width="1.3"/>
<circle cx="379.3" cy="455.8" r="4.3" fill="#fff" stroke="#4f1f63" stroke-width="1.4"/>
<text x="393" y="459" font-size="9.2" text-anchor="start" fill="#222" stroke="#222" stroke-width="0.3" textLength="110.8" lengthAdjust="spacingAndGlyphs">MyD88/TRIF dko MDSC-IL13</text>
</svg></body></html>
